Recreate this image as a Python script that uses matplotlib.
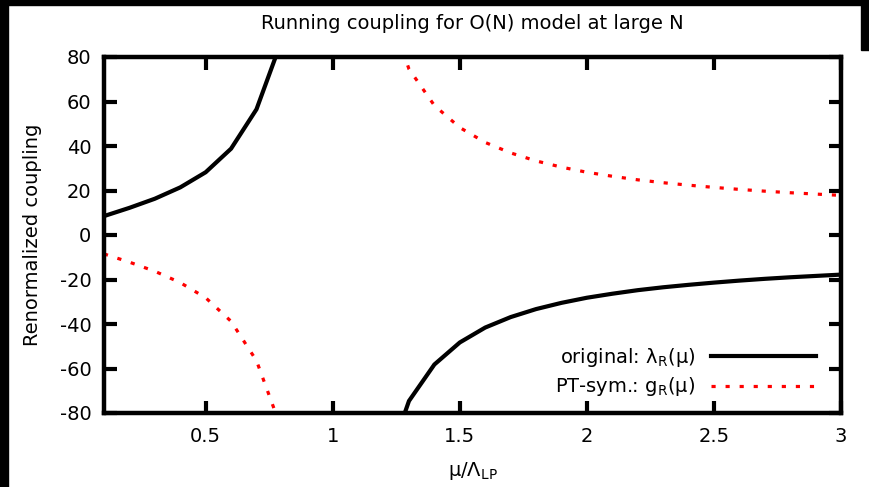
import numpy as np
import matplotlib
matplotlib.use('Agg')
import matplotlib.pyplot as plt
from matplotlib.patches import Rectangle

plt.rcParams['font.family'] = ['DejaVu Sans']
plt.rcParams['mathtext.default'] = 'regular'
plt.rcParams['axes.unicode_minus'] = False

# mu / Lambda_LP, sampled every 0.1 (the pole at 1.0 is left undefined)
mu = [0.1, 0.2, 0.3, 0.4, 0.5, 0.6, 0.7, 0.8, 0.9, 1.0,
      1.1, 1.2, 1.3, 1.4, 1.5, 1.6, 1.7, 1.8, 1.9, 2.0,
      2.1, 2.2, 2.3, 2.4, 2.5, 2.6, 2.7, 2.8, 2.9, 3.0]

# original coupling lambda_R(mu)
lam_r = [8.5, 12.2, 16.3, 21.4, 28.2, 38.8, 56.5, 87.7, 185.7, np.nan,
         -205.3, -107.3, -74.6, -58.2, -48.3, -41.6, -36.9, -33.3, -30.5, -28.2,
         -26.4, -24.8, -23.5, -22.4, -21.4, -20.5, -19.7, -19.0, -18.4, -17.8]

# PT-symmetric coupling g_R(mu)
g_r = [-8.5, -12.2, -16.3, -21.4, -28.2, -38.8, -56.5, -87.7, -185.7, np.nan,
       205.3, 107.3, 74.6, 58.2, 48.3, 41.6, 36.9, 33.3, 30.5, 28.2,
       26.4, 24.8, 23.5, 22.4, 21.4, 20.5, 19.7, 19.0, 18.4, 17.8]

xticks = [0.5, 1, 1.5, 2, 2.5, 3]
xticklabels = ['0.5', '1', '1.5', '2', '2.5', '3']
yticks = [-80, -60, -40, -20, 0, 20, 40, 60, 80]

fig = plt.figure(figsize=(8.7, 4.87), dpi=100)
fig.patch.set_facecolor('white')

# dark frame bits along the edges of the original picture
fig.patches.append(Rectangle((0, 0), 8 / 870, 1, transform=fig.transFigure,
                             color='black', zorder=0))
fig.patches.append(Rectangle((0, 1 - 5 / 487), 1, 5 / 487, transform=fig.transFigure,
                             color='black', zorder=0))
fig.patches.append(Rectangle((861 / 870, 1 - 50 / 487), 9 / 870, 50 / 487,
                             transform=fig.transFigure, color='black', zorder=0))

ax = fig.add_axes([104 / 870, 1 - 413 / 487, 737 / 870, 356 / 487])

ax.plot(mu, lam_r, color='black', lw=3.0, solid_joinstyle='miter',
        label=r'original: $\lambda_R(\mu)$')
ax.plot(mu, g_r, color='red', lw=2.3, dashes=(1.3, 3.1), dash_capstyle='butt',
        label=r'PT-sym.: $g_R(\mu)$')

ax.set_xlim(0.1, 3)
ax.set_ylim(-80, 80)
ax.set_xticks(xticks)
ax.set_xticklabels(xticklabels)
ax.set_yticks(yticks)

for side in ax.spines.values():
    side.set_linewidth(3.2)
ax.tick_params(direction='in', length=9, width=3.0, labelsize=14,
               top=True, right=True, color='black')
ax.tick_params(axis='x', pad=10)
ax.tick_params(axis='y', pad=9)

ax.set_title('Running coupling for O(N) model at large N', fontsize=14, pad=20)
ax.set_xlabel(r'$\mu/\Lambda_{LP}$', fontsize=14, labelpad=10)
ax.set_ylabel('Renormalized coupling', fontsize=14, labelpad=13)

ax.legend(loc='lower right', bbox_to_anchor=(0.99, -0.008), frameon=False,
          markerfirst=False, handlelength=5.4, handletextpad=0.8,
          labelspacing=0.35, fontsize=14)

fig.savefig('out.png', dpi=100, facecolor=fig.get_facecolor())
